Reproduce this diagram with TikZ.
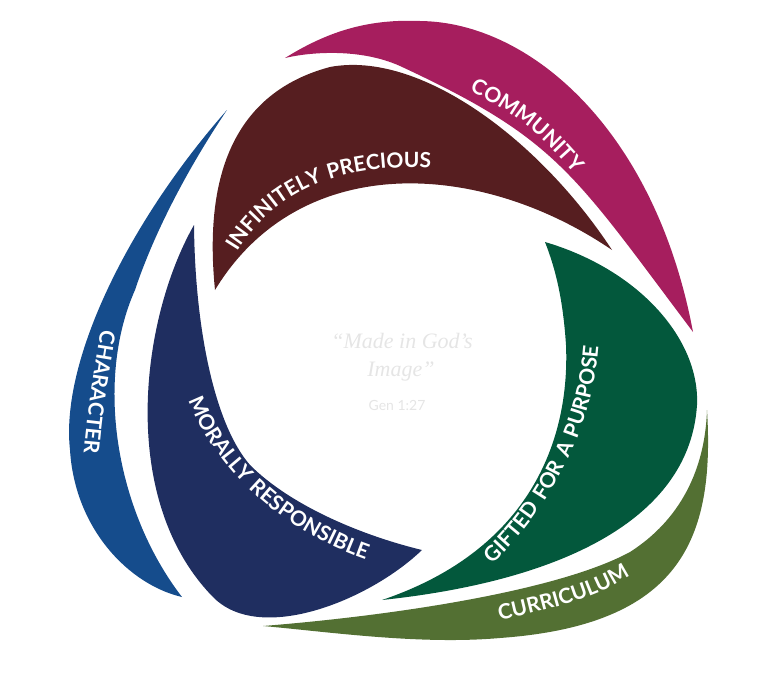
\documentclass[tikz,border=0pt]{standalone}
\usepackage{fontspec}
\setmainfont{Lato}
\newfontfamily\quotefont{Liberation Serif}
\usetikzlibrary{decorations.text}
\definecolor{communitycol}{HTML}{A61E5E}
\definecolor{preciouscol}{HTML}{561E20}
\definecolor{charactercol}{HTML}{154C8C}
\definecolor{responsiblecol}{HTML}{1F2E60}
\definecolor{purposecol}{HTML}{03583C}
\definecolor{curriculumcol}{HTML}{537033}
\newcommand\bandfont{\fontsize{21}{21}\selectfont\bfseries}
\newcommand\wordgap{\hspace{7pt}}

\begin{document}
\begin{tikzpicture}[x=1pt,y=-1pt,
    bandtext/.style={decorate,decoration={text along path,text align=center,
        text color=white,text={|\bandfont|#1}}},
    faint/.style={text=black!10,inner sep=0pt,anchor=base}]
\useasboundingbox (0,0) rectangle (768,680);
% blades
\fill[communitycol] (285,58) .. controls (330,30) and (370,19) .. (420,21)
    .. controls (530,22) and (655,130) .. (693,332)
    .. controls (572,171) and (557,139) .. (400,66)
    .. controls (360,48) and (310,52) .. cycle;
\fill[preciouscol] (215,290) .. controls (205,190) and (225,95) .. (330,67)
    .. controls (420,50) and (540,140) .. (612,250)
    .. controls (480,160) and (300,150) .. cycle;
\fill[charactercol] (227,110) .. controls (130,220) and (60,360) .. (70,450)
    .. controls (75,530) and (130,585) .. (182,597)
    .. controls (115,510) and (95,380) .. (135,290)
    .. controls (155,230) and (190,165) .. cycle;
\fill[responsiblecol] (194,225) .. controls (140,320) and (118,500) .. (213,597)
    .. controls (260,645) and (370,600) .. (422,550)
    .. controls (360,535) and (290,505) .. (250,465)
    .. controls (215,425) and (195,330) .. cycle;
\fill[purposecol] (545,242) .. controls (640,270) and (700,340) .. (697,405)
    .. controls (690,515) and (570,580) .. (382,600)
    .. controls (530,550) and (570,440) .. (566,345)
    .. controls (563,300) and (556,270) .. cycle;
\fill[curriculumcol] (707,410) .. controls (715,540) and (680,625) .. (500,638)
    .. controls (420,645) and (330,632) .. (263,626)
    .. controls (400,615) and (560,590) .. (630,552)
    .. controls (680,520) and (705,470) .. cycle;
% labels
\path[bandtext=COMMUNITY] (434,72) .. controls (507,111) and (533,117) .. (599,205);
\path[bandtext=INFINITELY{\wordgap}PRECIOUS] (226,274) .. controls (264,188) and (346,158) .. (456,170);
\path[bandtext=CHARACTER] (105,305) .. controls (96,360) and (86,410) .. (82,478);
\path[bandtext=MORALLY{\wordgap}RESPONSIBLE] (180,372) .. controls (205,472) and (292,541) .. (394,568);
\path[bandtext=GIFTED{\wordgap}FOR{\wordgap}A{\wordgap}PURPOSE] (466,586) .. controls (544,528) and (604,421) .. (599,312);
\path[bandtext=CURRICULUM] (474,627) .. controls (532,612) and (609,601) .. (651,559);
% centre
\node[faint,font=\quotefont\itshape\fontsize{22}{22}\selectfont] (made) at (402,348) {“Made in God’s};
\node[faint,font=\quotefont\itshape\fontsize{22}{22}\selectfont] (image) at (401,376) {Image”};
\node[faint,font=\fontsize{14}{14}\selectfont] (gen) at (397,410) {Gen 1:27};
\end{tikzpicture}
\end{document}
